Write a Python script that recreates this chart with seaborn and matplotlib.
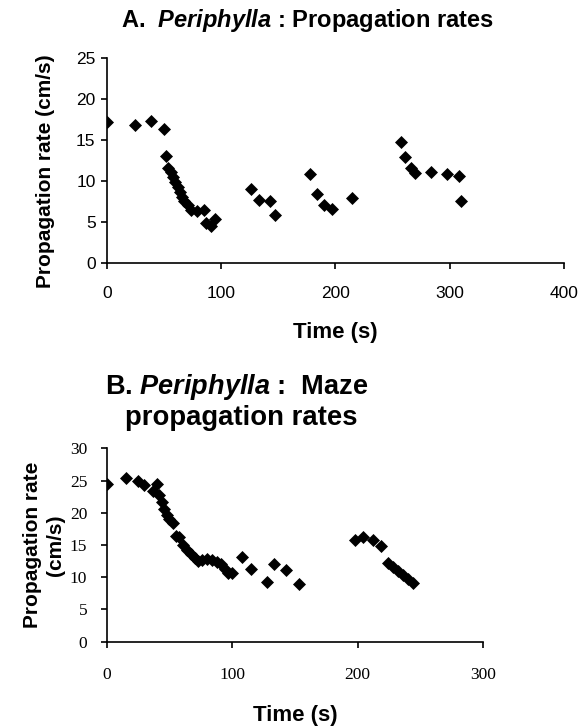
import numpy as np
import pandas as pd
import matplotlib
matplotlib.use("Agg")
import matplotlib.pyplot as plt
import seaborn as sns

# Panel A: Periphylla propagation rates
time_a = [0, 25, 39, 50, 52, 54, 56, 58, 60, 62, 64, 66, 68, 71, 74, 79, 85,
          87, 91, 95, 126, 133, 143, 147, 178, 184, 190, 197, 215, 257, 261,
          266, 270, 284, 298, 308, 310]
rate_a = [17.2, 16.8, 17.3, 16.4, 13.0, 11.6, 11.1, 10.5, 9.9, 9.3, 8.7, 8.0,
          7.5, 7.0, 6.5, 6.3, 6.4, 4.8, 4.5, 5.3, 9.0, 7.7, 7.6, 5.8, 10.9, 8.4,
          7.0, 6.6, 7.9, 14.8, 12.9, 11.6, 11.0, 11.1, 10.9, 10.6, 7.5]

# Panel B: maze propagation rates
time_b = [0, 15, 25, 30, 37, 40, 42, 44, 46, 48, 50, 53, 55, 58, 61, 64, 67,
          70, 73, 76, 80, 84, 88, 91, 94, 97, 100, 108, 115, 128, 133, 143,
          153, 198, 204, 212, 219, 224, 228, 232, 236, 240, 244]
rate_b = [24.4, 25.4, 25.0, 24.3, 23.4, 24.5, 22.7, 21.6, 20.6, 19.7, 19.0,
          18.4, 16.4, 16.2, 15.0, 14.3, 13.6, 13.0, 12.5, 12.6, 12.9, 12.6,
          12.3, 12.0, 11.2, 10.7, 10.6, 13.2, 11.3, 9.3, 12.1, 11.1, 8.9, 15.8,
          16.3, 15.7, 14.8, 12.2, 11.6, 11.0, 10.4, 9.8, 9.1]

df_a = pd.DataFrame({"time": time_a, "rate": rate_a})
df_b = pd.DataFrame({"time": time_b, "rate": rate_b})

sns.set_style("white")
plt.rcParams["font.family"] = ["Liberation Sans", "DejaVu Sans"]
plt.rcParams["text.color"] = "black"
plt.rcParams["xtick.color"] = "black"
plt.rcParams["ytick.color"] = "black"
plt.rcParams["mathtext.fontset"] = "custom"
plt.rcParams["mathtext.rm"] = "Liberation Sans:bold"
plt.rcParams["mathtext.bfit"] = "Liberation Sans:italic:bold"
plt.rcParams["mathtext.it"] = "Liberation Sans:italic:bold"

fig = plt.figure(figsize=(5.79, 7.28), dpi=100)
W, H = 579, 728


def add_ax(x0, y_top, x1, y_bot):
    return fig.add_axes([x0 / W, 1 - y_bot / H, (x1 - x0) / W, (y_bot - y_top) / H])


def style_axis(ax, tick_font, tick_size, xpad, ypad):
    sns.despine(ax=ax)
    for s in ["left", "bottom"]:
        ax.spines[s].set_linewidth(1.2)
        ax.spines[s].set_color("black")
    ax.tick_params(axis="both", direction="out", length=4, width=1.2,
                   color="black", labelcolor="black", left=True, bottom=True)
    ax.tick_params(axis="x", pad=xpad)
    ax.tick_params(axis="y", pad=ypad)
    for lab in ax.get_xticklabels() + ax.get_yticklabels():
        lab.set_fontfamily(tick_font)
        lab.set_fontsize(tick_size)
    ax.set_xlabel("")
    ax.set_ylabel("")


# ---- A ----
ax1 = add_ax(106.7, 58.3, 564, 262.7)
sns.scatterplot(data=df_a, x="time", y="rate", marker="D", color="black",
                s=44, linewidth=0, ax=ax1)
ax1.set_xlim(0, 400)
ax1.set_ylim(0, 25)
ax1.set_xticks([0, 100, 200, 300, 400])
ax1.set_yticks([0, 5, 10, 15, 20, 25])
style_axis(ax1, "Liberation Sans", 12.5, 13, 4)

fig.text(307 / W, 1 - 21 / H, r"A.  $\mathbfit{Periphylla}$ : Propagation rates",
         ha="center", va="center", fontsize=17, fontweight="bold")
fig.text(46 / W, 1 - 171 / H, "Propagation rate (cm/s)", rotation=90,
         ha="center", va="center", fontsize=15, fontweight="bold")
fig.text(335 / W, 1 - 333 / H, "Time (s)", ha="center", va="center",
         fontsize=16, fontweight="bold")

# ---- B ----
ax2 = add_ax(106.7, 448.3, 483, 641.7)
sns.scatterplot(data=df_b, x="time", y="rate", marker="D", color="black",
                s=44, linewidth=0, ax=ax2)
ax2.set_xlim(0, 300)
ax2.set_ylim(0, 30)
ax2.set_xticks([0, 100, 200, 300])
ax2.set_yticks([0, 5, 10, 15, 20, 25, 30])
style_axis(ax2, "Liberation Serif", 12.5, 14.5, 10)

fig.text(237 / W, 1 - 394 / H, r"B. $\mathbfit{Periphylla}$ :  Maze",
         ha="center", va="baseline", fontsize=19.5, fontweight="bold")
fig.text(241 / W, 1 - 425 / H, "propagation rates",
         ha="center", va="baseline", fontsize=19.8, fontweight="bold")
fig.text(44 / W, 1 - 545 / H, "Propagation rate\n(cm/s)", rotation=90,
         ha="center", va="center", multialignment="center", linespacing=1.2,
         fontsize=15, fontweight="bold")
fig.text(295 / W, 1 - 716 / H, "Time (s)", ha="center", va="center",
         fontsize=16, fontweight="bold")

fig.savefig("out.png", dpi=100)
